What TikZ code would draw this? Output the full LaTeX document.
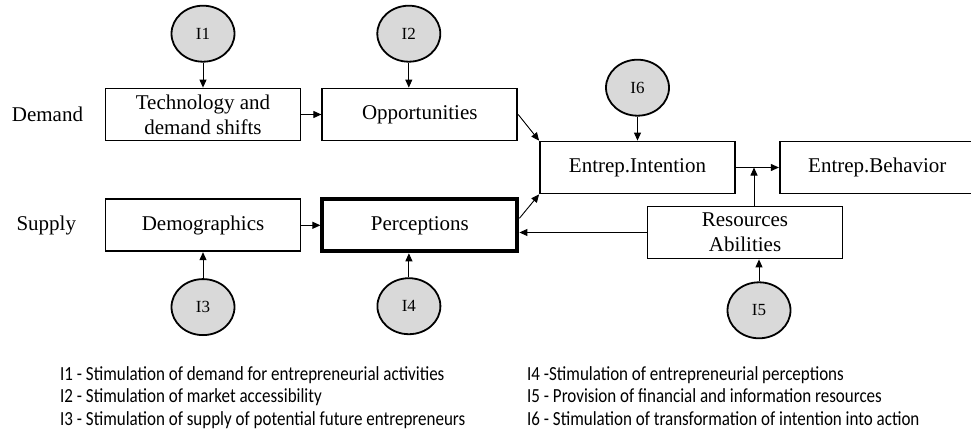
\documentclass[tikz,border=0pt]{standalone}
\usepackage{fontspec}
\setmainfont{Liberation Serif}
\newfontfamily\legendfont[FakeStretch=0.85]{Carlito}
\usepackage{tikz}
\usetikzlibrary{arrows.meta,positioning,shapes.geometric,calc}

\begin{document}
\begin{tikzpicture}[x=1pt, y=-1pt, >={Triangle[length=8pt,width=7pt]},
  blk/.style={draw, line width=1.8pt, minimum width=195pt, minimum height=52pt,
    align=center, inner sep=2pt, font=\fontsize{21}{25}\selectfont},
  inter/.style={draw, ellipse, line width=1.8pt, fill=gray!30, minimum width=63pt,
    minimum height=56pt, inner sep=0pt, font=\fontsize{17}{20}\selectfont},
  lbl/.style={font=\fontsize{21}{25}\selectfont},
  link/.style={->, line width=0.9pt},
  key/.style={anchor=north west, align=left, inner sep=0pt,
    font=\legendfont\fontsize{20}{22.5}\selectfont}]
\useasboundingbox (0,0) rectangle (971,431);

% boxes
\node[blk] (tech) at (203,114.5) {Technology and\\demand shifts};
\node[blk, right=20pt of tech] (opp) {Opportunities};
\node[blk, below=57pt of tech] (demo) {Demographics};
\node[blk, right=19pt of demo, line width=4pt] (perc) {Perceptions};
\node[blk] (intent) at (637.5,167.5) {Entrep.Intention};
\node[blk, right=43pt of intent] (behav) {Entrep.Behavior};
\node[blk] (res) at (745,232.5) {Resources\\Abilities};

\node[lbl, left=18pt of tech] (dem) {Demand};
\node[lbl, left=25pt of demo] (sup) {Supply};

% interventions
\node[inter, above=25pt of tech] (i1) {I1};
\node[inter, above=25pt of opp, xshift=-11pt] (i2) {I2};
\node[inter, below=26pt of demo] (i3) {I3};
\node[inter, below=24pt of perc, xshift=-11pt] (i4) {I4};
\node[inter, below=22pt of res, xshift=14pt] (i5) {I5};
\node[inter, above=24pt of intent] (i6) {I6};

\coordinate (resTop) at ([xshift=9pt]res.north);
\coordinate (join) at (resTop |- intent.east);

% links
\draw[link] (i1) -- (tech);
\draw[link] (i2) -- (i2 |- opp.north);
\draw[link] (i3) -- (demo);
\draw[link] (i4) -- (i4 |- perc.south);
\draw[link] (i5) -- (i5 |- res.south);
\draw[link] (i6) -- (intent);
\draw[link] (tech) -- (opp);
\draw[link] (demo) -- (perc);
\draw[link] (opp.east) -- (intent.north west);
\draw[link] ([yshift=7pt]perc.east) -- (intent.south west);
\draw[link] (intent) -- (behav);
\draw[link] (resTop) -- (join);
\draw[link] (res.west) -- (res.west -| perc.east);

% legend
\node[key] (keyA) at (60,366) {I1 - Stimulation of demand for entrepreneurial activities\\
  I2 - Stimulation of market accessibility\\
  I3 - Stimulation of supply of potential future entrepreneurs};
\node[key] (keyB) at (527,366) {I4 -Stimulation of entrepreneurial perceptions\\
  I5 - Provision of financial and information resources\\
  I6 - Stimulation of transformation of intention into action};
\end{tikzpicture}
\end{document}
